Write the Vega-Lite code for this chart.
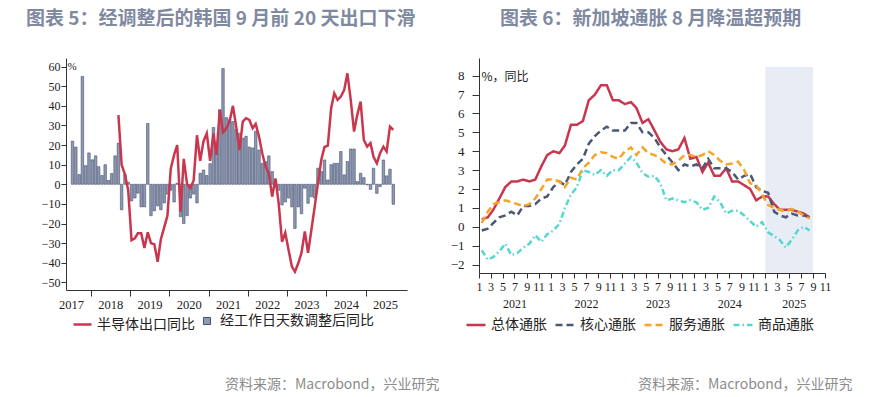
{
  "$schema": "https://vega.github.io/schema/vega-lite/v6.json",
  "background": "white",
  "padding": {"left": 26, "top": 10, "right": 10, "bottom": 5},
  "bounds": "flush",
  "spacing": 72,
  "config": {
    "view": {"stroke": null},
    "axis": {"labelFont": "Liberation Serif", "labelColor": "#222", "domainColor": "#333", "tickColor": "#333", "grid": false, "labelFlush": false, "labelOverlap": false},
    "legend": {"labelFont": "Noto Sans CJK SC", "labelColor": "#222", "labelFontSize": 14, "padding": 0, "titlePadding": 0}
  },
  "datasets": {
    "bars": [
      {"date": "2017-07-15", "value": 22}, {"date": "2017-08-15", "value": 19}, {"date": "2017-09-15", "value": 5}, {"date": "2017-10-15", "value": 55},
      {"date": "2017-11-15", "value": 9.5}, {"date": "2017-12-15", "value": 16}, {"date": "2018-01-15", "value": 12.5}, {"date": "2018-02-15", "value": 14.5},
      {"date": "2018-03-15", "value": 9}, {"date": "2018-04-15", "value": 4.5}, {"date": "2018-05-15", "value": 10}, {"date": "2018-06-15", "value": 2},
      {"date": "2018-07-15", "value": 5.5}, {"date": "2018-08-15", "value": 14.5}, {"date": "2018-09-15", "value": 21}, {"date": "2018-10-15", "value": -13},
      {"date": "2018-11-15", "value": 5}, {"date": "2018-12-15", "value": 1}, {"date": "2019-01-15", "value": -8.5}, {"date": "2019-02-15", "value": -7},
      {"date": "2019-03-15", "value": -4.5}, {"date": "2019-04-15", "value": -11.5}, {"date": "2019-05-15", "value": -11.5}, {"date": "2019-06-15", "value": 31},
      {"date": "2019-07-15", "value": -16}, {"date": "2019-08-15", "value": -13.5}, {"date": "2019-09-15", "value": -11}, {"date": "2019-10-15", "value": -13},
      {"date": "2019-11-15", "value": -9.5}, {"date": "2019-12-15", "value": -5}, {"date": "2020-01-15", "value": -3}, {"date": "2020-02-15", "value": -9},
      {"date": "2020-03-15", "value": 0.5}, {"date": "2020-04-15", "value": -16.5}, {"date": "2020-05-15", "value": -20}, {"date": "2020-06-15", "value": -16},
      {"date": "2020-07-15", "value": -7}, {"date": "2020-08-15", "value": -5}, {"date": "2020-09-15", "value": -9.5}, {"date": "2020-10-15", "value": 5.6},
      {"date": "2020-11-15", "value": 7.3}, {"date": "2020-12-15", "value": 4.5}, {"date": "2021-01-15", "value": 10.5}, {"date": "2021-02-15", "value": 29},
      {"date": "2021-03-15", "value": 17}, {"date": "2021-04-15", "value": 38}, {"date": "2021-05-15", "value": 59}, {"date": "2021-06-15", "value": 34},
      {"date": "2021-07-15", "value": 33}, {"date": "2021-08-15", "value": 32}, {"date": "2021-09-15", "value": 28}, {"date": "2021-10-15", "value": 26},
      {"date": "2021-11-15", "value": 23.5}, {"date": "2021-12-15", "value": 24.5}, {"date": "2022-01-15", "value": 19}, {"date": "2022-02-15", "value": 18.5},
      {"date": "2022-03-15", "value": 27}, {"date": "2022-04-15", "value": 17.5}, {"date": "2022-05-15", "value": 10.7}, {"date": "2022-06-15", "value": 11.5},
      {"date": "2022-07-15", "value": 14.5}, {"date": "2022-08-15", "value": 6.5}, {"date": "2022-09-15", "value": 2.2}, {"date": "2022-10-15", "value": -3},
      {"date": "2022-11-15", "value": -10.5}, {"date": "2022-12-15", "value": -9}, {"date": "2023-01-15", "value": -7}, {"date": "2023-02-15", "value": -11.5},
      {"date": "2023-03-15", "value": -22.5}, {"date": "2023-04-15", "value": -11.5}, {"date": "2023-05-15", "value": -15}, {"date": "2023-06-15", "value": -2},
      {"date": "2023-07-15", "value": -9.7}, {"date": "2023-08-15", "value": -6.3}, {"date": "2023-09-15", "value": -7}, {"date": "2023-10-15", "value": 8.2},
      {"date": "2023-11-15", "value": 6.5}, {"date": "2023-12-15", "value": 12.4}, {"date": "2024-01-15", "value": 2.2}, {"date": "2024-02-15", "value": 10},
      {"date": "2024-03-15", "value": 10.7}, {"date": "2024-04-15", "value": 10.7}, {"date": "2024-05-15", "value": 16.7}, {"date": "2024-06-15", "value": 4.8},
      {"date": "2024-07-15", "value": 11.6}, {"date": "2024-08-15", "value": 18}, {"date": "2024-09-15", "value": 18}, {"date": "2024-10-15", "value": 1.4},
      {"date": "2024-11-15", "value": 5.6}, {"date": "2024-12-15", "value": 3.4}, {"date": "2025-01-15", "value": -0.3}, {"date": "2025-02-15", "value": -2.6},
      {"date": "2025-03-15", "value": 8.2}, {"date": "2025-04-15", "value": -4.6}, {"date": "2025-05-15", "value": -1.2}, {"date": "2025-06-15", "value": 12.4},
      {"date": "2025-07-15", "value": 4.3}, {"date": "2025-08-15", "value": 7.7}, {"date": "2025-09-15", "value": -10.2}
    ],
    "semi": [
      {"date": "2018-09-15", "value": 35.3}, {"date": "2018-10-15", "value": 10}, {"date": "2018-11-15", "value": 5}, {"date": "2018-12-15", "value": -3},
      {"date": "2019-01-15", "value": -28.5}, {"date": "2019-02-15", "value": -27.5}, {"date": "2019-03-15", "value": -25}, {"date": "2019-04-15", "value": -25},
      {"date": "2019-05-15", "value": -32.5}, {"date": "2019-06-15", "value": -24.5}, {"date": "2019-07-15", "value": -30}, {"date": "2019-08-15", "value": -30.5},
      {"date": "2019-09-15", "value": -39.5}, {"date": "2019-10-15", "value": -28}, {"date": "2019-11-15", "value": -22}, {"date": "2019-12-15", "value": -16},
      {"date": "2020-01-15", "value": 8}, {"date": "2020-02-15", "value": 15}, {"date": "2020-03-15", "value": 20}, {"date": "2020-04-15", "value": -14},
      {"date": "2020-05-15", "value": 13}, {"date": "2020-06-15", "value": 0}, {"date": "2020-07-15", "value": -2}, {"date": "2020-08-15", "value": 2},
      {"date": "2020-09-15", "value": 25}, {"date": "2020-10-15", "value": 12}, {"date": "2020-11-15", "value": 22}, {"date": "2020-12-15", "value": 26},
      {"date": "2021-01-15", "value": 12}, {"date": "2021-02-15", "value": 26}, {"date": "2021-03-15", "value": 15}, {"date": "2021-04-15", "value": 38},
      {"date": "2021-05-15", "value": 26.5}, {"date": "2021-06-15", "value": 28.6}, {"date": "2021-07-15", "value": 32}, {"date": "2021-08-15", "value": 40},
      {"date": "2021-09-15", "value": 29.4}, {"date": "2021-10-15", "value": 17.5}, {"date": "2021-11-15", "value": 32}, {"date": "2021-12-15", "value": 33.7},
      {"date": "2022-01-15", "value": 32.8}, {"date": "2022-02-15", "value": 28.6}, {"date": "2022-03-15", "value": 30.8}, {"date": "2022-04-15", "value": 24.3},
      {"date": "2022-05-15", "value": 15.8}, {"date": "2022-06-15", "value": 9}, {"date": "2022-07-15", "value": 5.6}, {"date": "2022-08-15", "value": -6.3},
      {"date": "2022-09-15", "value": 3}, {"date": "2022-10-15", "value": -9.7}, {"date": "2022-11-15", "value": -29.3}, {"date": "2022-12-15", "value": -24.7},
      {"date": "2023-01-15", "value": -33.5}, {"date": "2023-02-15", "value": -42}, {"date": "2023-03-15", "value": -44.6}, {"date": "2023-04-15", "value": -40.3},
      {"date": "2023-05-15", "value": -35}, {"date": "2023-06-15", "value": -24}, {"date": "2023-07-15", "value": -35}, {"date": "2023-08-15", "value": -23.3},
      {"date": "2023-09-15", "value": -11.4}, {"date": "2023-10-15", "value": 0.5}, {"date": "2023-11-15", "value": 12.4}, {"date": "2023-12-15", "value": 19},
      {"date": "2024-01-15", "value": 19.7}, {"date": "2024-02-15", "value": 38.8}, {"date": "2024-03-15", "value": 46.4}, {"date": "2024-04-15", "value": 43},
      {"date": "2024-05-15", "value": 44.7}, {"date": "2024-06-15", "value": 48}, {"date": "2024-07-15", "value": 56.6}, {"date": "2024-08-15", "value": 43},
      {"date": "2024-09-15", "value": 26.9}, {"date": "2024-10-15", "value": 35.4}, {"date": "2024-11-15", "value": 42.2}, {"date": "2024-12-15", "value": 22.6},
      {"date": "2025-01-15", "value": 19.2}, {"date": "2025-02-15", "value": 21}, {"date": "2025-03-15", "value": 14}, {"date": "2025-04-15", "value": 10.7},
      {"date": "2025-05-15", "value": 15.8}, {"date": "2025-06-15", "value": 19.2}, {"date": "2025-07-15", "value": 16.7}, {"date": "2025-08-15", "value": 29.4},
      {"date": "2025-09-15", "value": 27.7}
    ],
    "sg": [
      {"date": "2021-01-15", "总体通胀": 0.4, "核心通胀": -0.2, "服务通胀": 0.2, "商品通胀": -1.25},
      {"date": "2021-02-15", "总体通胀": 0.5, "核心通胀": -0.1, "服务通胀": 0.8, "商品通胀": -1.75},
      {"date": "2021-03-15", "总体通胀": 0.9, "核心通胀": 0.2, "服务通胀": 1.2, "商品通胀": -1.6},
      {"date": "2021-04-15", "总体通胀": 1.5, "核心通胀": 0.5, "服务通胀": 1.3, "商品通胀": -1.3},
      {"date": "2021-05-15", "总体通胀": 2.1, "核心通胀": 0.6, "服务通胀": 1.4, "商品通胀": -0.9},
      {"date": "2021-06-15", "总体通胀": 2.4, "核心通胀": 0.8, "服务通胀": 1.3, "商品通胀": -1.5},
      {"date": "2021-07-15", "总体通胀": 2.4, "核心通胀": 0.6, "服务通胀": 1.2, "商品通胀": -1.4},
      {"date": "2021-08-15", "总体通胀": 2.5, "核心通胀": 1.1, "服务通胀": 1.1, "商品通胀": -1.1},
      {"date": "2021-09-15", "总体通胀": 2.4, "核心通胀": 1.1, "服务通胀": 1.2, "商品通胀": -0.9},
      {"date": "2021-10-15", "总体通胀": 2.5, "核心通胀": 1.2, "服务通胀": 1.5, "商品通胀": -0.45},
      {"date": "2021-11-15", "总体通胀": 3.2, "核心通胀": 1.5, "服务通胀": 2.0, "商品通胀": -0.8},
      {"date": "2021-12-15", "总体通胀": 3.8, "核心通胀": 1.6, "服务通胀": 2.5, "商品通胀": -0.4},
      {"date": "2022-01-15", "总体通胀": 4.0, "核心通胀": 2.1, "服务通胀": 2.5, "商品通胀": -0.2},
      {"date": "2022-02-15", "总体通胀": 3.9, "核心通胀": 2.4, "服务通胀": 2.4, "商品通胀": 0.15},
      {"date": "2022-03-15", "总体通胀": 4.3, "核心通胀": 2.2, "服务通胀": 2.1, "商品通胀": 1.0},
      {"date": "2022-04-15", "总体通胀": 5.4, "核心通胀": 2.9, "服务通胀": 2.6, "商品通胀": 1.7},
      {"date": "2022-05-15", "总体通胀": 5.4, "核心通胀": 3.3, "服务通胀": 2.5, "商品通胀": 2.1},
      {"date": "2022-06-15", "总体通胀": 5.6, "核心通胀": 3.6, "服务通胀": 3.1, "商品通胀": 3.0},
      {"date": "2022-07-15", "总体通胀": 6.7, "核心通胀": 4.4, "服务通胀": 3.4, "商品通胀": 2.9},
      {"date": "2022-08-15", "总体通胀": 7.0, "核心通胀": 4.8, "服务通胀": 3.8, "商品通胀": 2.75},
      {"date": "2022-09-15", "总体通胀": 7.5, "核心通胀": 5.1, "服务通胀": 3.95, "商品通胀": 3.0},
      {"date": "2022-10-15", "总体通胀": 7.5, "核心通胀": 5.3, "服务通胀": 3.9, "商品通胀": 2.7},
      {"date": "2022-11-15", "总体通胀": 6.7, "核心通胀": 5.1, "服务通胀": 3.7, "商品通胀": 3.0},
      {"date": "2022-12-15", "总体通胀": 6.7, "核心通胀": 5.1, "服务通胀": 3.6, "商品通胀": 3.0},
      {"date": "2023-01-15", "总体通胀": 6.5, "核心通胀": 5.1, "服务通胀": 4.0, "商品通胀": 3.35},
      {"date": "2023-02-15", "总体通胀": 6.6, "核心通胀": 5.5, "服务通胀": 4.2, "商品通胀": 3.7},
      {"date": "2023-03-15", "总体通胀": 6.3, "核心通胀": 5.5, "服务通胀": 3.8, "商品通胀": 3.4},
      {"date": "2023-04-15", "总体通胀": 5.5, "核心通胀": 5.0, "服务通胀": 4.2, "商品通胀": 2.85},
      {"date": "2023-05-15", "总体通胀": 5.7, "核心通胀": 5.0, "服务通胀": 3.9, "商品通胀": 2.65},
      {"date": "2023-06-15", "总体通胀": 5.1, "核心通胀": 4.7, "服务通胀": 3.8, "商品通胀": 2.7},
      {"date": "2023-07-15", "总体通胀": 4.5, "核心通胀": 4.2, "服务通胀": 3.6, "商品通胀": 2.3},
      {"date": "2023-08-15", "总体通胀": 4.1, "核心通胀": 3.8, "服务通胀": 3.35, "商品通胀": 1.4},
      {"date": "2023-09-15", "总体通胀": 4.0, "核心通胀": 3.4, "服务通胀": 3.3, "商品通胀": 1.5},
      {"date": "2023-10-15", "总体通胀": 4.1, "核心通胀": 3.0, "服务通胀": 3.5, "商品通胀": 1.4},
      {"date": "2023-11-15", "总体通胀": 4.7, "核心通胀": 3.3, "服务通胀": 3.8, "商品通胀": 1.3},
      {"date": "2023-12-15", "总体通胀": 3.6, "核心通胀": 3.2, "服务通胀": 3.8, "商品通胀": 1.4},
      {"date": "2024-01-15", "总体通胀": 3.7, "核心通胀": 3.3, "服务通胀": 3.7, "商品通胀": 1.3},
      {"date": "2024-02-15", "总体通胀": 2.9, "核心通胀": 3.1, "服务通胀": 3.8, "商品通胀": 0.9},
      {"date": "2024-03-15", "总体通胀": 3.4, "核心通胀": 3.6, "服务通胀": 4.0, "商品通胀": 1.0},
      {"date": "2024-04-15", "总体通胀": 2.7, "核心通胀": 3.1, "服务通胀": 3.8, "商品通胀": 1.6},
      {"date": "2024-05-15", "总体通胀": 2.7, "核心通胀": 3.1, "服务通胀": 3.5, "商品通胀": 1.3},
      {"date": "2024-06-15", "总体通胀": 3.1, "核心通胀": 3.1, "服务通胀": 3.3, "商品通胀": 0.7},
      {"date": "2024-07-15", "总体通胀": 2.4, "核心通胀": 2.9, "服务通胀": 3.35, "商品通胀": 0.85},
      {"date": "2024-08-15", "总体通胀": 2.4, "核心通胀": 2.5, "服务通胀": 3.45, "商品通胀": 0.85},
      {"date": "2024-09-15", "总体通胀": 2.2, "核心通胀": 2.7, "服务通胀": 3.0, "商品通胀": 0.6},
      {"date": "2024-10-15", "总体通胀": 2.0, "核心通胀": 2.8, "服务通胀": 2.3, "商品通胀": 0.3},
      {"date": "2024-11-15", "总体通胀": 1.4, "核心通胀": 2.1, "服务通胀": 2.2, "商品通胀": 0.0},
      {"date": "2024-12-15", "总体通胀": 1.6, "核心通胀": 1.9, "服务通胀": 1.7, "商品通胀": 0.25},
      {"date": "2025-01-15", "总体通胀": 1.6, "核心通胀": 1.8, "服务通胀": 1.15, "商品通胀": -0.3},
      {"date": "2025-02-15", "总体通胀": 1.2, "核心通胀": 0.8, "服务通胀": 1.0, "商品通胀": -0.5},
      {"date": "2025-03-15", "总体通胀": 0.9, "核心通胀": 0.6, "服务通胀": 0.9, "商品通胀": -0.7},
      {"date": "2025-04-15", "总体通胀": 0.9, "核心通胀": 0.5, "服务通胀": 0.8, "商品通胀": -1.1},
      {"date": "2025-05-15", "总体通胀": 0.9, "核心通胀": 0.7, "服务通胀": 0.95, "商品通胀": -0.7},
      {"date": "2025-06-15", "总体通胀": 0.8, "核心通胀": 0.6, "服务通胀": 0.8, "商品通胀": -0.2},
      {"date": "2025-07-15", "总体通胀": 0.7, "核心通胀": 0.6, "服务通胀": 0.6, "商品通胀": 0.0},
      {"date": "2025-08-15", "总体通胀": 0.5, "核心通胀": 0.5, "服务通胀": 0.45, "商品通胀": -0.2}
    ],
    "band": [{"start": "2025-01-01", "end": "2025-09-01", "top": 8.46, "bottom": -2.45}]
  },
  "hconcat": [
    {
      "width": 341,
      "height": 232,
      "title": {"text": "图表 5：经调整后的韩国 9 月前 20 天出口下滑", "anchor": "start", "frame": "group", "dx": -40, "offset": 14, "baseline": "alphabetic", "font": "Noto Sans CJK SC", "fontSize": 19, "fontWeight": "bold", "color": "#7f8aa1"},
      "layer": [
        {
          "data": {"name": "bars"},
          "mark": {"type": "bar", "width": 2.5, "stroke": "#46516e", "strokeWidth": 0.6},
          "encoding": {
            "x": {"field": "date", "type": "temporal",
              "scale": {"type": "utc", "domain": [{"year": 2017, "month": 7, "date": 1, "utc": true}, {"year": 2025, "month": 12, "date": 5, "utc": true}]},
              "axis": {"orient": "bottom", "title": null, "labels": false, "tickSize": 6,
                "values": [{"year": 2018, "month": 1, "date": 1, "utc": true}, {"year": 2019, "month": 1, "date": 1, "utc": true}, {"year": 2020, "month": 1, "date": 1, "utc": true}, {"year": 2021, "month": 1, "date": 1, "utc": true}, {"year": 2022, "month": 1, "date": 1, "utc": true}, {"year": 2023, "month": 1, "date": 1, "utc": true}, {"year": 2024, "month": 1, "date": 1, "utc": true}, {"year": 2025, "month": 1, "date": 1, "utc": true}]}},
            "y": {"field": "value", "type": "quantitative",
              "scale": {"domain": [-53.9, 64.4], "nice": false, "zero": false},
              "axis": {"values": [-50, -40, -30, -20, -10, 0, 10, 20, 30, 40, 50, 60], "labelOverlap": false, "tickSize": 5, "labelPadding": 1, "labelFontSize": 12,
                "title": "%", "titleAngle": 0, "titleX": 1, "titleY": 8, "titleAlign": "left", "titleBaseline": "middle", "titleFont": "Liberation Serif", "titleFontSize": 11, "titleFontWeight": "normal", "titleColor": "#222"}},
            "fill": {"datum": "经工作日天数调整后同比", "type": "nominal", "scale": {"range": ["#8e99b3"]},
              "legend": {"orient": "none", "legendX": 134, "legendY": 256, "direction": "horizontal", "title": null, "symbolType": "square", "symbolSize": 50, "symbolStrokeColor": "#46516e", "symbolStrokeWidth": 1, "labelOffset": 6}}
          }
        },
        {
          "data": {"name": "semi"},
          "mark": {"type": "line", "strokeWidth": 2.5},
          "encoding": {
            "x": {"field": "date", "type": "temporal",
              "axis": {"orient": "bottom", "format": "%Y", "ticks": false, "tickSize": 0, "domain": false, "labelPadding": 8, "labelFontSize": 12.5,
                "values": [{"year": 2017, "month": 7, "date": 1, "utc": true}, {"year": 2018, "month": 7, "date": 1, "utc": true}, {"year": 2019, "month": 7, "date": 1, "utc": true}, {"year": 2020, "month": 7, "date": 1, "utc": true}, {"year": 2021, "month": 7, "date": 1, "utc": true}, {"year": 2022, "month": 7, "date": 1, "utc": true}, {"year": 2023, "month": 7, "date": 1, "utc": true}, {"year": 2024, "month": 7, "date": 1, "utc": true}, {"year": 2025, "month": 7, "date": 1, "utc": true}],
                "title": "资料来源：Macrobond，兴业研究", "titleX": 373, "titleY": 98, "titleAlign": "right", "titleBaseline": "alphabetic", "titleFont": "Noto Sans CJK SC", "titleFontSize": 14, "titleFontWeight": "normal", "titleColor": "#8c8c8c"}},
            "y": {"field": "value", "type": "quantitative",
              "axis": {"values": [-50, -40, -30, -20, -10, 0, 10, 20, 30, 40, 50, 60], "labelOverlap": false, "tickSize": 5, "labelPadding": 1, "labelFontSize": 12,
                "title": "%", "titleAngle": 0, "titleX": 1, "titleY": 8, "titleAlign": "left", "titleBaseline": "middle", "titleFont": "Liberation Serif", "titleFontSize": 11, "titleFontWeight": "normal", "titleColor": "#222"}},
            "stroke": {"datum": "半导体出口同比", "type": "nominal", "scale": {"range": ["#c8374d"]},
              "legend": {"orient": "none", "legendX": 6, "legendY": 256, "direction": "horizontal", "title": null, "symbolType": "stroke", "symbolSize": 324, "symbolStrokeWidth": 2.5, "labelOffset": 4}}
          }
        }
      ],
      "resolve": {"axis": {"x": "independent"}}
    },
    {
      "width": 346,
      "height": 215,
      "title": {"text": "图表 6：新加坡通胀 8 月降温超预期", "anchor": "start", "frame": "group", "dx": 21, "offset": 14, "baseline": "alphabetic", "font": "Noto Sans CJK SC", "fontSize": 19, "fontWeight": "bold", "color": "#7f8aa1"},
      "layer": [
        {
          "data": {"name": "band"},
          "mark": {"type": "rect", "color": "#e8edf5"},
          "encoding": {
            "x": {"field": "start", "type": "temporal",
              "scale": {"type": "utc", "domain": [{"year": 2021, "month": 1, "date": 1, "utc": true}, {"year": 2025, "month": 11, "date": 1, "utc": true}]},
              "axis": {"orient": "bottom", "title": null, "format": "%-m", "tickSize": 5, "labelPadding": 3, "labelFontSize": 12, "labelOverlap": false,
                "values": [
                  {"year": 2021, "month": 1, "date": 1, "utc": true}, {"year": 2021, "month": 3, "date": 1, "utc": true}, {"year": 2021, "month": 5, "date": 1, "utc": true}, {"year": 2021, "month": 7, "date": 1, "utc": true}, {"year": 2021, "month": 9, "date": 1, "utc": true}, {"year": 2021, "month": 11, "date": 1, "utc": true},
                  {"year": 2022, "month": 1, "date": 1, "utc": true}, {"year": 2022, "month": 3, "date": 1, "utc": true}, {"year": 2022, "month": 5, "date": 1, "utc": true}, {"year": 2022, "month": 7, "date": 1, "utc": true}, {"year": 2022, "month": 9, "date": 1, "utc": true}, {"year": 2022, "month": 11, "date": 1, "utc": true},
                  {"year": 2023, "month": 1, "date": 1, "utc": true}, {"year": 2023, "month": 3, "date": 1, "utc": true}, {"year": 2023, "month": 5, "date": 1, "utc": true}, {"year": 2023, "month": 7, "date": 1, "utc": true}, {"year": 2023, "month": 9, "date": 1, "utc": true}, {"year": 2023, "month": 11, "date": 1, "utc": true},
                  {"year": 2024, "month": 1, "date": 1, "utc": true}, {"year": 2024, "month": 3, "date": 1, "utc": true}, {"year": 2024, "month": 5, "date": 1, "utc": true}, {"year": 2024, "month": 7, "date": 1, "utc": true}, {"year": 2024, "month": 9, "date": 1, "utc": true}, {"year": 2024, "month": 11, "date": 1, "utc": true},
                  {"year": 2025, "month": 1, "date": 1, "utc": true}, {"year": 2025, "month": 3, "date": 1, "utc": true}, {"year": 2025, "month": 5, "date": 1, "utc": true}, {"year": 2025, "month": 7, "date": 1, "utc": true}, {"year": 2025, "month": 9, "date": 1, "utc": true}, {"year": 2025, "month": 11, "date": 1, "utc": true}
                ]}},
            "x2": {"field": "end"},
            "y": {"field": "top", "type": "quantitative",
              "scale": {"domain": [-2.45, 8.94], "nice": false, "zero": false},
              "axis": {"values": [-2, -1, 0, 1, 2, 3, 4, 5, 6, 7, 8], "labelOverlap": false, "tickSize": 7, "labelPadding": 8, "labelFontSize": 13,
                "title": "%，同比", "titleAngle": 0, "titleX": 2, "titleY": 18, "titleAlign": "left", "titleBaseline": "middle", "titleFont": "Noto Sans CJK SC", "titleFontSize": 12, "titleFontWeight": "normal", "titleColor": "#222"}},
            "y2": {"field": "bottom"}
          }
        },
        {
          "data": {"name": "sg"},
          "transform": [{"fold": ["总体通胀", "核心通胀", "服务通胀", "商品通胀"], "as": ["series", "value"]}],
          "mark": {"type": "line", "strokeWidth": 2.5},
          "encoding": {
            "x": {"field": "date", "type": "temporal",
              "axis": {"orient": "bottom", "format": "%Y", "ticks": false, "tickSize": 0, "domain": false, "labelPadding": 25, "labelFontSize": 12,
                "values": [{"year": 2021, "month": 7, "date": 1, "utc": true}, {"year": 2022, "month": 7, "date": 1, "utc": true}, {"year": 2023, "month": 7, "date": 1, "utc": true}, {"year": 2024, "month": 7, "date": 1, "utc": true}, {"year": 2025, "month": 5, "date": 26, "utc": true}],
                "title": "资料来源：Macrobond，兴业研究", "titleX": 373, "titleY": 115, "titleAlign": "right", "titleBaseline": "alphabetic", "titleFont": "Noto Sans CJK SC", "titleFontSize": 14, "titleFontWeight": "normal", "titleColor": "#8c8c8c"}},
            "y": {"field": "value", "type": "quantitative",
              "axis": {"values": [-2, -1, 0, 1, 2, 3, 4, 5, 6, 7, 8], "labelOverlap": false, "tickSize": 7, "labelPadding": 8, "labelFontSize": 13,
                "title": "%，同比", "titleAngle": 0, "titleX": 2, "titleY": 18, "titleAlign": "left", "titleBaseline": "middle", "titleFont": "Noto Sans CJK SC", "titleFontSize": 12, "titleFontWeight": "normal", "titleColor": "#222"}},
            "color": {"field": "series", "type": "nominal",
              "scale": {"domain": ["总体通胀", "核心通胀", "服务通胀", "商品通胀"], "range": ["#c8374d", "#4c5775", "#f4a427", "#55d6cf"]},
              "legend": {"orient": "none", "legendX": 399, "legendY": 256, "direction": "horizontal", "title": null, "symbolType": "stroke", "symbolSize": 361, "symbolStrokeWidth": 2.5, "labelOffset": 4, "columnPadding": 3}},
            "strokeDash": {"field": "series", "type": "nominal",
              "scale": {"domain": ["总体通胀", "核心通胀", "服务通胀", "商品通胀"], "range": [[1, 0], [7, 4], [7, 4], [6, 3, 1.5, 3]]},
              "legend": {"orient": "none", "legendX": 399, "legendY": 256, "direction": "horizontal", "title": null, "symbolType": "stroke", "symbolSize": 361, "symbolStrokeWidth": 2.5, "labelOffset": 4, "columnPadding": 3}}
          }
        }
      ],
      "resolve": {"axis": {"x": "independent"}}
    }
  ]
}
